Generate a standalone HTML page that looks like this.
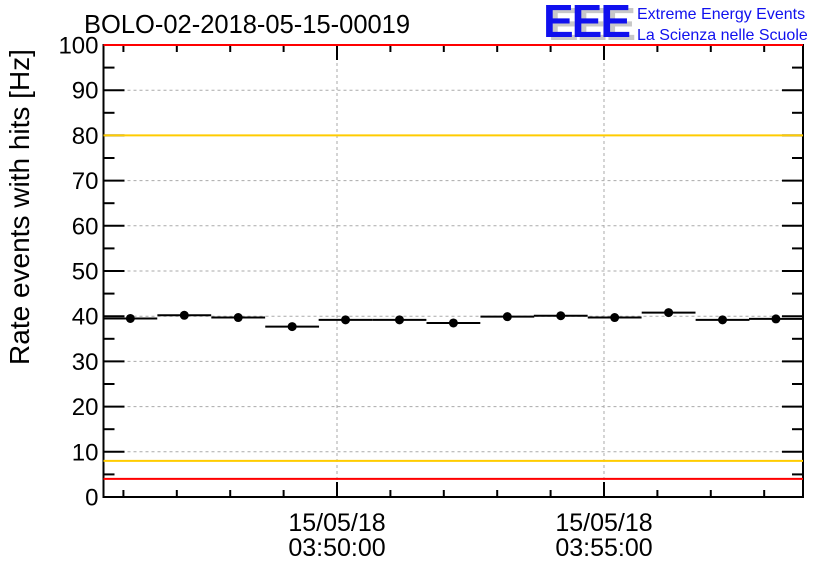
<!DOCTYPE html>
<html><head><meta charset="utf-8"><style>
body{margin:0;background:#fff;}
svg{display:block;font-family:"Liberation Sans",sans-serif;}
</style></head><body>
<svg id="chart" width="836" height="572" viewBox="0 0 836 572" xmlns="http://www.w3.org/2000/svg">
<rect width="836" height="572" fill="#fff"/>
<text x="84" y="33" font-size="25.5" fill="#000">BOLO-02-2018-05-15-00019</text>
<g>
<text x="548" y="40" font-size="46" font-weight="bold" fill="#c8c8c8" letter-spacing="-2">EEE</text>
<text x="543" y="37" font-size="46" font-weight="bold" fill="#1010ee" letter-spacing="-2">EEE</text>
<text x="637" y="19" font-size="16" fill="#1010ee">Extreme Energy Events</text>
<text x="637" y="40" font-size="16" fill="#1010ee">La Scienza nelle Scuole</text>
</g>
<text transform="translate(29,207) rotate(-90)" text-anchor="middle" font-size="28" fill="#000">Rate events with hits [Hz]</text>
<g id="grid"></g><g id="lines"></g><g id="axes"></g><g id="marks"></g>
</svg>
<script>
const yTicks=[0,10,20,30,40,50,60,70,80,90,100];
const xMajorLabels=[["15/05/18","03:50:00"],["15/05/18","03:55:00"]];
const xMajorMinutes=[0,5];
const binCentersMin=[-3.87,-2.86,-1.85,-0.84,0.16,1.17,2.18,3.19,4.19,5.20,6.21,7.22,8.22];
const rates=[39.5,40.2,39.7,37.7,39.2,39.2,38.5,39.9,40.1,39.7,40.8,39.2,39.4];
const binWidthMin=1.0077;
const redLevels=[4,100];
const orangeLevels=[8,80];

const L=103.5,R=803,T=45,B=497;
const xMin=-4.373,xMax=8.727;
const X=m=>L+(m-xMin)/(xMax-xMin)*(R-L);
const Y=v=>B-v/100*(B-T);
const NS="http://www.w3.org/2000/svg";
function mk(p,tag,a){const e=document.createElementNS(NS,tag);for(const k in a)e.setAttribute(k,a[k]);p.appendChild(e);return e;}
const grid=document.getElementById('grid'),lines=document.getElementById('lines'),axes=document.getElementById('axes'),marks=document.getElementById('marks');
yTicks.forEach(v=>{if(v>0&&v<100){const g=mk(grid,'line',{x1:L,x2:R,y1:Y(v),y2:Y(v),stroke:'#aaa','stroke-dasharray':'3,3','stroke-width':1});

}});
xMajorMinutes.forEach(m=>{const g=mk(grid,'line',{x1:X(m),x2:X(m),y1:T,y2:B,stroke:'#aaa','stroke-dasharray':'3,3','stroke-width':1});

});
orangeLevels.forEach(v=>{const l=mk(lines,'line',{x1:L,x2:R,y1:Y(v),y2:Y(v),stroke:'#ffcc00','stroke-width':2});

});
const fr=mk(axes,'rect',{x:L,y:T,width:R-L,height:B-T,fill:'none',stroke:'#000','stroke-width':2});


redLevels.forEach(v=>{const l=mk(lines,'line',{x1:L,x2:R,y1:Y(v),y2:Y(v),stroke:'#ff0000','stroke-width':2});

});
axes.parentNode.appendChild(lines);
for(let v=0;v<=100;v+=5){const len=v%10===0?21:11;
mk(axes,'line',{x1:L,x2:L+len,y1:Y(v),y2:Y(v),stroke:'#000','stroke-width':2});
mk(axes,'line',{x1:R-len,x2:R,y1:Y(v),y2:Y(v),stroke:'#000','stroke-width':2});}
yTicks.forEach(v=>{const t=mk(axes,'text',{x:L-5,y:Y(v)+8.5,'text-anchor':'end','font-size':24,fill:'#000'});t.textContent=v;

});
for(let m=Math.ceil(xMin);m<=xMax;m++){const len=m%5===0?15:7;
mk(axes,'line',{x1:X(m),x2:X(m),y1:B,y2:B-len,stroke:'#000','stroke-width':2});
mk(axes,'line',{x1:X(m),x2:X(m),y1:T,y2:T+len,stroke:'#000','stroke-width':2});}
xMajorMinutes.forEach((m,i)=>{[0,1].forEach(j=>{const t=mk(axes,'text',{x:X(m),y:531+j*25,'text-anchor':'middle','font-size':25,fill:'#000'});t.textContent=xMajorLabels[i][j];

});});
rates.forEach((v,i)=>{const c=binCentersMin[i];
const s=mk(marks,'line',{x1:X(c-binWidthMin/2),x2:X(c+binWidthMin/2),y1:Y(v),y2:Y(v),stroke:'#000','stroke-width':2});


const p=mk(marks,'circle',{cx:X(c),cy:Y(v),r:4.5,fill:'#000'});

});
</script>
</body></html>
